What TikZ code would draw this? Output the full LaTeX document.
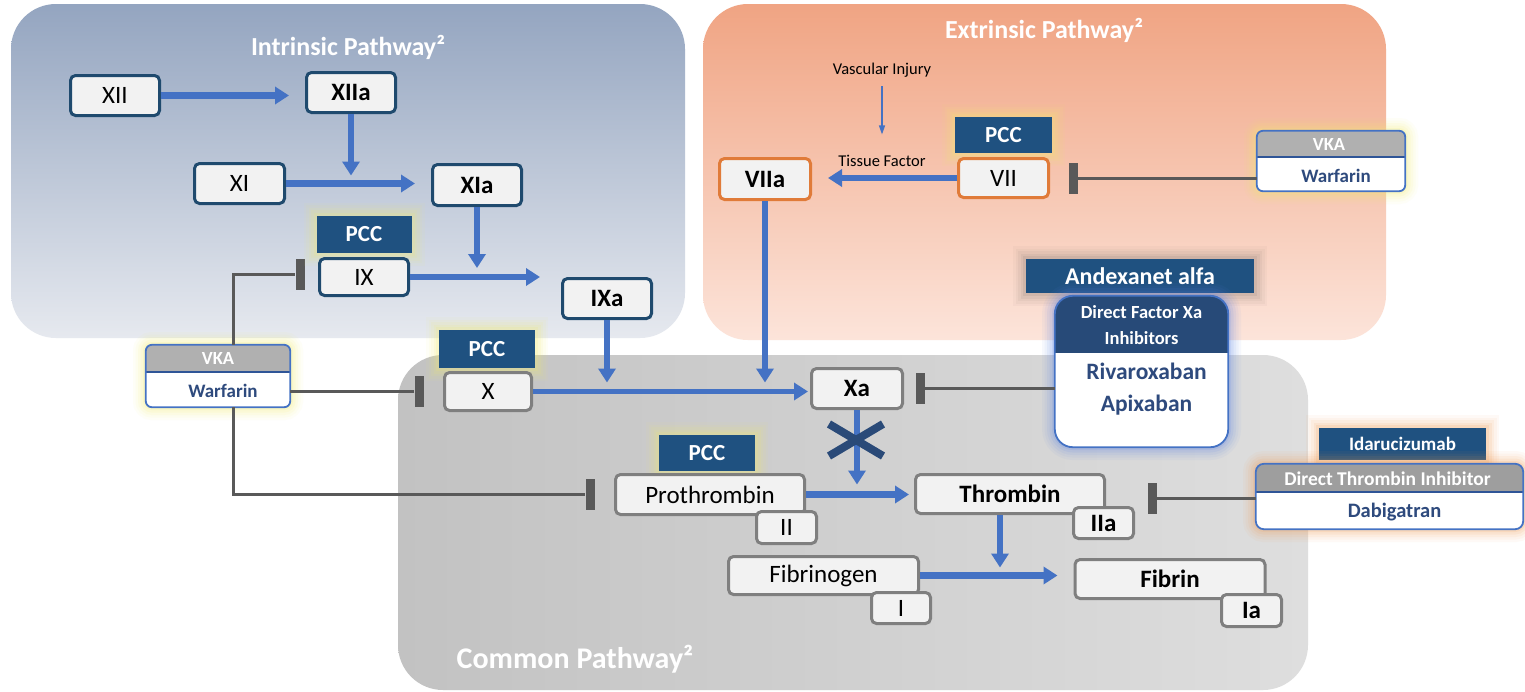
\documentclass[tikz,border=0pt]{standalone}
\usepackage{fontspec}
\setmainfont{Carlito}
\usetikzlibrary{arrows.meta,calc}
\definecolor{navy}{HTML}{1F4A6E}
\definecolor{pccblue}{HTML}{1F5180}
\definecolor{flowblue}{HTML}{4472C4}
\definecolor{orng}{HTML}{E07B39}
\definecolor{gbord}{HTML}{7F7F7F}
\definecolor{boxfill}{HTML}{F2F2F2}
\definecolor{hdrgray}{HTML}{B0B0B0}
\definecolor{txtnavy}{HTML}{2E4A7D}
\definecolor{inhcol}{HTML}{595959}
\definecolor{dfxa}{HTML}{274A78}
\definecolor{glowy}{HTML}{F3EE6A}
\definecolor{glowb}{HTML}{5A82E6}
\definecolor{glowo}{HTML}{F29A50}
\definecolor{glowd}{HTML}{8A7A72}
\definecolor{crosscol}{HTML}{2A4A78}
\definecolor{intTop}{HTML}{94A5C0}
\definecolor{intBot}{HTML}{E6E9EF}
\definecolor{extTop}{HTML}{F0A483}
\definecolor{extBot}{HTML}{FCE4DA}
\definecolor{comL}{HTML}{C2C2C2}
\definecolor{comR}{HTML}{DEDEDE}
\definecolor{sepline}{HTML}{2F5597}

\tikzset{
 glow/.style={preaction={draw=#1,line width=26pt,opacity=0.05},
              preaction={draw=#1,line width=21pt,opacity=0.06},
              preaction={draw=#1,line width=16pt,opacity=0.08},
              preaction={draw=#1,line width=11pt,opacity=0.10},
              preaction={draw=#1,line width=6pt,opacity=0.14}},
 fbox/.style={rounded corners=5pt,line width=3pt,fill=boxfill,inner sep=0pt,
              font=\fontsize{25}{30}\selectfont},
 bfb/.style={font=\bfseries\fontsize{25}{30}\selectfont},
 ibox/.style={fbox,draw=navy},
 obox/.style={fbox,draw=orng},
 gboxs/.style={fbox,draw=gbord},
 pcc/.style={fill=pccblue,text=white,font=\bfseries\fontsize{23}{28}\selectfont,
             minimum width=95,minimum height=37,inner sep=0pt,glow=glowy},
 flow/.style={draw=flowblue,line width=6.5pt,-{Triangle[length=14pt,width=17pt]}},
 thinflow/.style={draw=flowblue,line width=1.2pt,-{Triangle[length=9pt,width=6pt]}},
 inhib/.style={draw=inhcol,line width=3pt},
 tbar/.style={fill=inhcol,minimum width=9,minimum height=31,inner sep=0pt},
 title/.style={text=white,font=\bfseries\fontsize{26}{30}\selectfont,anchor=base,inner sep=0pt},
 smalltxt/.style={font=\fontsize{16.5}{19}\selectfont,anchor=base,inner sep=0pt},
 hdrtxt/.style={text=white,font=\bfseries\fontsize{18.5}{22}\selectfont,inner sep=0pt},
 bodytxt/.style={text=txtnavy,font=\bfseries\fontsize{19}{22}\selectfont,inner sep=0pt},
}

\newcommand\drugbox[9]{%
 \node[minimum width=#3,minimum height=#4,inner sep=0pt,fill=white,rounded corners=#8,glow=#7] (#1) at #2 {};
 \begin{scope}
  \clip[rounded corners=#8] (#1.south west) rectangle (#1.north east);
  \fill[#6] (#1.north west) rectangle ($(#1.north east)+(0,#5)$);
 \end{scope}
 \draw[draw=#9,line width=1.8pt] ($(#1.north west)+(0,#5)$) -- ($(#1.north east)+(0,#5)$);
 \draw[draw=flowblue,line width=1.8pt,rounded corners=#8] (#1.south west) rectangle (#1.north east);
}

\begin{document}
\begin{tikzpicture}[x=1pt,y=-1pt]
\fill[white] (0,0) rectangle (1525,691);
\useasboundingbox (0,0) rectangle (1525,691);

% regions
\shade[rounded corners=45, top color=intTop, bottom color=intBot] (11,4) rectangle (685,338);
\shade[rounded corners=45, top color=extTop, bottom color=extBot] (703,4) rectangle (1386,340);
\shade[rounded corners=45, left color=comL, right color=comR] (398,355) rectangle (1308,690);

\node[title] (tInt) at (348,55) {Intrinsic Pathway²};
\node[title] (tExt) at (1044,38) {Extrinsic Pathway²};
\node[title,font=\bfseries\fontsize{30}{34}\selectfont] (tCom) at (575,668) {Common Pathway²};

% inhibitor bars
\node[tbar] (barIX) at (300,274) {};
\node[tbar] (barX) at (419,391.5) {};
\node[tbar] (barPT) at (590,494.5) {};
\node[tbar] (barXa) at (920.5,388.5) {};
\node[tbar] (barVII) at (1073,178) {};
\node[tbar] (barTH) at (1152,498.5) {};

% drug boxes
\drugbox{vkaL}{(218,376)}{144}{62}{27}{hdrgray}{glowy}{6}{sepline}
\node[hdrtxt] (vkaLh) at ($(vkaL.north)+(0,14)$) {VKA};
\node[bodytxt] (vkaLb) at ($(vkaL.north)+(5,46)$) {Warfarin};

\drugbox{vkaR}{(1331,161)}{148}{60}{26}{hdrgray}{glowy}{6}{sepline}
\node[hdrtxt] (vkaRh) at ($(vkaR.north)+(-2,14)$) {VKA};
\node[bodytxt] (vkaRb) at ($(vkaR.north)+(5,45)$) {Warfarin};

\node[fill=pccblue,text=white,font=\bfseries\fontsize{24}{28}\selectfont,minimum width=228,minimum height=34,inner sep=0pt,glow=glowd] (andx) at (1140,276) {Andexanet alfa};
\drugbox{dfxa}{(1141.5,371.5)}{173}{151}{56}{dfxa}{glowb}{18}{dfxa}
\node[hdrtxt,font=\bfseries\fontsize{18.5}{26}\selectfont,align=center] (dfxah) at ($(dfxa.north)+(0,29)$) {Direct Factor Xa\\Inhibitors};
\node[bodytxt,font=\bfseries\fontsize{23.5}{32}\selectfont,align=center] (dfxab) at ($(dfxa.north)+(5,93)$) {Rivaroxaban\\Apixaban};

\node[fill=pccblue,text=white,font=\bfseries\fontsize{19}{23}\selectfont,minimum width=167,minimum height=32,inner sep=0pt,glow=glowo] (idar) at (1402.5,444) {Idarucizumab};
\drugbox{dti}{(1389.5,496.5)}{267}{65}{28}{hdrgray!90!black}{glowo}{8}{sepline}
\node[hdrtxt,font=\bfseries\fontsize{19.5}{23}\selectfont] (dtih) at ($(dti.north)+(-2,15)$) {Direct Thrombin Inhibitor};
\node[bodytxt,font=\bfseries\fontsize{20.5}{24}\selectfont] (dtib) at ($(dti.north)+(5,48)$) {Dabigatran};

% inhibition connectors
\draw[inhib] ([xshift=15pt]vkaL.north) |- (barIX.west);
\draw[inhib] ([xshift=15pt]vkaL.south) |- (barPT.west);
\draw[inhib] (vkaL.east |- barX.west) -- (barX.west);
\draw[inhib] (barXa.east) -- (barXa.east -| dfxa.west);
\draw[inhib] (barVII.east) -- (barVII.east -| vkaR.west);
\draw[inhib] (barTH.east) -- (barTH.east -| dti.west);

% PCC labels
\node[pcc] (pcc1) at (364,234) {PCC};
\node[pcc,minimum width=96,minimum height=38] (pcc2) at (487,349) {PCC};
\node[pcc,minimum width=97,minimum height=36] (pcc3) at (1003.5,135) {PCC};
\node[pcc,minimum width=96,minimum height=36] (pcc4) at (707,453) {PCC};

% intrinsic factors
\node[ibox,minimum width=89,minimum height=40] (XII) at (115,95.5) {XII};
\node[ibox,bfb,minimum width=89,minimum height=40] (XIIa) at (351,92.5) {XIIa};
\node[ibox,minimum width=90,minimum height=40] (XI) at (239.5,183.5) {XI};
\node[ibox,bfb,minimum width=89,minimum height=41] (XIa) at (477,185) {XIa};
\node[ibox,minimum width=89,minimum height=37] (IX) at (364,277) {IX};
\node[ibox,bfb,minimum width=89,minimum height=40] (IXa) at (607,298.5) {IXa};
\coordinate (ixend) at (540,277);

% extrinsic factors
\node[obox,minimum width=90,minimum height=39] (VII) at (1003.5,178) {VII};
\node[obox,bfb,minimum width=91,minimum height=41] (VIIa) at (765,179) {VIIa};
\node[smalltxt] (vi) at (882,74) {Vascular Injury};
\node[smalltxt] (tf) at (882,166) {Tissue Factor};

% common factors
\node[gboxs,minimum width=87,minimum height=38] (X) at (488,391.5) {X};
\node[gboxs,bfb,minimum width=91,minimum height=40] (Xa) at (857,388.5) {Xa};
\node[gboxs,minimum width=189,minimum height=40] (PT) at (710,494.5) {Prothrombin};
\node[gboxs,minimum width=60,minimum height=32] (II) at (786.5,527.5) {II};
\node[gboxs,bfb,minimum width=189,minimum height=39] (TH) at (1010,494) {Thrombin};
\node[gboxs,bfb,minimum width=60,minimum height=31] (IIa) at (1103.5,523) {IIa};
\node[gboxs,minimum width=190,minimum height=38] (FG) at (823.5,575.5) {Fibrinogen};
\node[gboxs,minimum width=59,minimum height=31] (I) at (901,608) {I};
\node[gboxs,bfb,minimum width=190,minimum height=39] (FB) at (1170,579) {Fibrin};
\node[gboxs,bfb,minimum width=60,minimum height=32] (Ia) at (1251.5,610.5) {Ia};

% flows
\draw[flow,shorten >=16pt] (XII.east) -- (XII.east -| XIIa.west);
\draw[flow] (XIIa.south) -- ($(XIIa.south |- XI.east)+(0,-8)$);
\draw[flow,shorten >=16pt] (XI.east) -- (XI.east -| XIa.west);
\draw[flow] (XIa.south) -- ($(XIa.south |- IX.east)+(0,-9)$);
\draw[flow] (IX.east) -- (ixend);
\draw[flow] (IXa.south) -- ($(IXa.south |- X.east)+(0,-9)$);
\draw[flow,line width=5.5pt,shorten >=2pt] (X.east) -- (X.east -| Xa.west);
\draw[flow,shorten >=16pt] (VII.west) -- (VII.west -| VIIa.east);
\draw[flow] (VIIa.south) -- ($(VIIa.south |- X.east)+(0,-9)$);
\draw[thinflow,shorten <=9pt,shorten >=20pt] (vi.south) -- (tf.north);
\draw[flow] (Xa.south) -- ($(Xa.south |- PT.east)+(0,-10)$);
\draw[flow,shorten >=5pt] (PT.east) -- (PT.east -| TH.west);
\draw[flow] ($(TH.south)+(-10,0)$) -- ($(TH.south |- FG.east)+(-10,-8)$);
\draw[flow,shorten >=16pt] (FG.east) -- (FG.east -| FB.west);

% blocked mark
\draw[crosscol,line width=8pt] (829,424) -- (883,456) (829,456) -- (883,424);
\end{tikzpicture}
\end{document}
